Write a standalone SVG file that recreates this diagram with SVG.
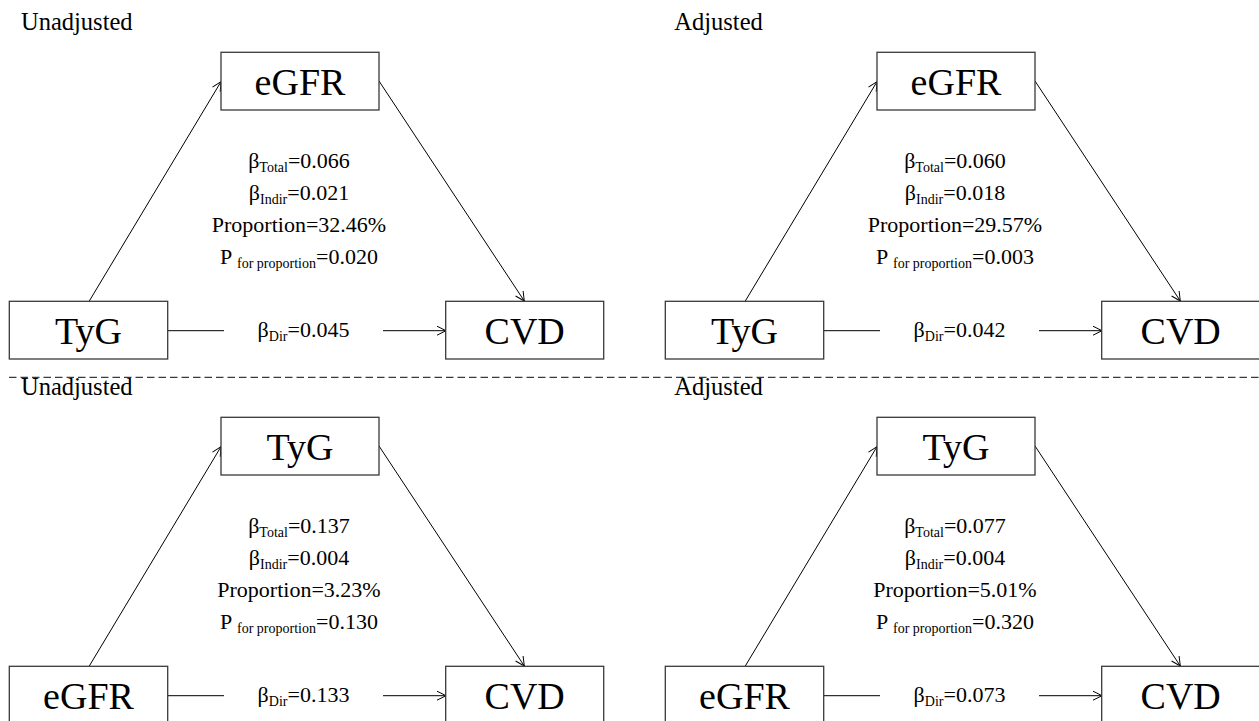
<svg xmlns="http://www.w3.org/2000/svg" width="1259" height="721" viewBox="0 0 1259 721">
<defs>
<style>
text{font-family:"Liberation Serif","Times New Roman",serif;fill:#000}
.box{fill:#fff;stroke:#3a3a3a;stroke-width:1.3}
.lbl{font-size:38px;text-anchor:middle}
.ttl{font-size:24.5px}
.st{font-size:22px;text-anchor:middle}
.sb{font-size:14px}
.ln{stroke:#000;stroke-width:1;fill:none}
.arr{stroke:#000;stroke-width:1;fill:none;marker-end:url(#ah)}
</style>
<marker id="ah" markerUnits="userSpaceOnUse" markerWidth="12" markerHeight="12" viewBox="0 0 12 12" refX="10" refY="5" orient="auto">
<path d="M1,0.5 L10,5 L1,9.5" fill="none" stroke="#000" stroke-width="1"/>
</marker>
</defs>
<rect width="1259" height="721" fill="#fff"/>
<line x1="9" y1="377.3" x2="1259" y2="377.3" stroke="#3a3a3a" stroke-width="1.3" stroke-dasharray="7.5 4"/>

<!-- Panel 1: top-left -->
<g id="panel-tl">
<text class="ttl" x="21" y="30">Unadjusted</text>
<g id="tl-connectors">
<line class="arr" x1="89.3" y1="301" x2="221" y2="81.7"/>
<line class="arr" x1="379" y1="81" x2="524.3" y2="301"/>
<line class="ln" x1="168" y1="330.7" x2="224" y2="330.7"/>
<line class="arr" x1="383" y1="330.7" x2="446" y2="330.7"/>
</g>
<g id="tl-mediator"><rect class="box" x="221" y="52.3" width="158" height="57.7"/><text class="lbl" x="300" y="95">eGFR</text></g>
<g id="tl-exposure"><rect class="box" x="9.3" y="301.3" width="158.4" height="57.7"/><text class="lbl" x="88.5" y="343.5">TyG</text></g>
<g id="tl-outcome"><rect class="box" x="445.7" y="301.3" width="158" height="57.7"/><text class="lbl" x="524.7" y="343.5">CVD</text></g>
<g id="tl-stats">
<text class="st" x="299" y="168">β<tspan class="sb" dy="4">Total</tspan><tspan dy="-4">=0.066</tspan></text>
<text class="st" x="299" y="200">β<tspan class="sb" dy="4">Indir</tspan><tspan dy="-4">=0.021</tspan></text>
<text class="st" x="299" y="232">Proportion=32.46%</text>
<text class="st" x="299" y="264">P <tspan class="sb" dy="4">for proportion</tspan><tspan dy="-4">=0.020</tspan></text>
<text class="st" x="303.5" y="336.5">β<tspan class="sb" dy="4">Dir</tspan><tspan dy="-4">=0.045</tspan></text>
</g>
</g>

<!-- Panel 2: top-right -->
<g id="panel-tr" transform="translate(656,0)">
<text class="ttl" x="18.3" y="30">Adjusted</text>
<g id="tr-connectors">
<line class="arr" x1="89.3" y1="301" x2="221" y2="81.7"/>
<line class="arr" x1="379" y1="81" x2="524.3" y2="301"/>
<line class="ln" x1="168" y1="330.7" x2="224" y2="330.7"/>
<line class="arr" x1="383" y1="330.7" x2="446" y2="330.7"/>
</g>
<g id="tr-mediator"><rect class="box" x="221" y="52.3" width="158" height="57.7"/><text class="lbl" x="300" y="95">eGFR</text></g>
<g id="tr-exposure"><rect class="box" x="9.3" y="301.3" width="158.4" height="57.7"/><text class="lbl" x="88.5" y="343.5">TyG</text></g>
<g id="tr-outcome"><rect class="box" x="445.7" y="301.3" width="158" height="57.7"/><text class="lbl" x="524.7" y="343.5">CVD</text></g>
<g id="tr-stats">
<text class="st" x="299" y="168">β<tspan class="sb" dy="4">Total</tspan><tspan dy="-4">=0.060</tspan></text>
<text class="st" x="299" y="200">β<tspan class="sb" dy="4">Indir</tspan><tspan dy="-4">=0.018</tspan></text>
<text class="st" x="299" y="232">Proportion=29.57%</text>
<text class="st" x="299" y="264">P <tspan class="sb" dy="4">for proportion</tspan><tspan dy="-4">=0.003</tspan></text>
<text class="st" x="303.5" y="336.5">β<tspan class="sb" dy="4">Dir</tspan><tspan dy="-4">=0.042</tspan></text>
</g>
</g>

<!-- Panel 3: bottom-left -->
<g id="panel-bl" transform="translate(0,365)">
<text class="ttl" x="21" y="30">Unadjusted</text>
<g id="bl-connectors">
<line class="arr" x1="89.3" y1="301" x2="221" y2="81.7"/>
<line class="arr" x1="379" y1="81" x2="524.3" y2="301"/>
<line class="ln" x1="168" y1="330.7" x2="224" y2="330.7"/>
<line class="arr" x1="383" y1="330.7" x2="446" y2="330.7"/>
</g>
<g id="bl-mediator"><rect class="box" x="221" y="52.3" width="158" height="57.7"/><text class="lbl" x="300" y="95">TyG</text></g>
<g id="bl-exposure"><rect class="box" x="9.3" y="301.3" width="158.4" height="57.7"/><text class="lbl" x="88.5" y="343.5">eGFR</text></g>
<g id="bl-outcome"><rect class="box" x="445.7" y="301.3" width="158" height="57.7"/><text class="lbl" x="524.7" y="343.5">CVD</text></g>
<g id="bl-stats">
<text class="st" x="299" y="168">β<tspan class="sb" dy="4">Total</tspan><tspan dy="-4">=0.137</tspan></text>
<text class="st" x="299" y="200">β<tspan class="sb" dy="4">Indir</tspan><tspan dy="-4">=0.004</tspan></text>
<text class="st" x="299" y="232">Proportion=3.23%</text>
<text class="st" x="299" y="264">P <tspan class="sb" dy="4">for proportion</tspan><tspan dy="-4">=0.130</tspan></text>
<text class="st" x="303.5" y="336.5">β<tspan class="sb" dy="4">Dir</tspan><tspan dy="-4">=0.133</tspan></text>
</g>
</g>

<!-- Panel 4: bottom-right -->
<g id="panel-br" transform="translate(656,365)">
<text class="ttl" x="18.3" y="30">Adjusted</text>
<g id="br-connectors">
<line class="arr" x1="89.3" y1="301" x2="221" y2="81.7"/>
<line class="arr" x1="379" y1="81" x2="524.3" y2="301"/>
<line class="ln" x1="168" y1="330.7" x2="224" y2="330.7"/>
<line class="arr" x1="383" y1="330.7" x2="446" y2="330.7"/>
</g>
<g id="br-mediator"><rect class="box" x="221" y="52.3" width="158" height="57.7"/><text class="lbl" x="300" y="95">TyG</text></g>
<g id="br-exposure"><rect class="box" x="9.3" y="301.3" width="158.4" height="57.7"/><text class="lbl" x="88.5" y="343.5">eGFR</text></g>
<g id="br-outcome"><rect class="box" x="445.7" y="301.3" width="158" height="57.7"/><text class="lbl" x="524.7" y="343.5">CVD</text></g>
<g id="br-stats">
<text class="st" x="299" y="168">β<tspan class="sb" dy="4">Total</tspan><tspan dy="-4">=0.077</tspan></text>
<text class="st" x="299" y="200">β<tspan class="sb" dy="4">Indir</tspan><tspan dy="-4">=0.004</tspan></text>
<text class="st" x="299" y="232">Proportion=5.01%</text>
<text class="st" x="299" y="264">P <tspan class="sb" dy="4">for proportion</tspan><tspan dy="-4">=0.320</tspan></text>
<text class="st" x="303.5" y="336.5">β<tspan class="sb" dy="4">Dir</tspan><tspan dy="-4">=0.073</tspan></text>
</g>
</g>
</svg>
